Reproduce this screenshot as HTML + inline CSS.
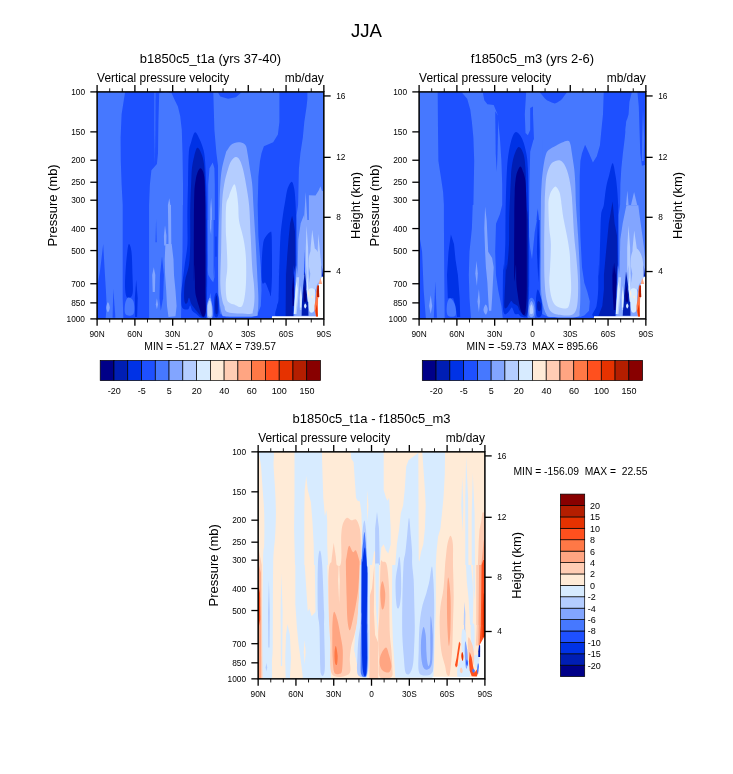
<!DOCTYPE html>
<html lang="en"><head><meta charset="utf-8"><title>JJA</title>
<style>html,body{margin:0;padding:0;background:#fff}svg{display:block}</style></head>
<body>
<svg width="733" height="774" viewBox="0 0 733 774" font-family="Liberation Sans, Arial, sans-serif">
<rect width="733" height="774" fill="#fff"/>
<text x="366.5" y="37.2" font-size="18.6" text-anchor="middle">JJA</text>
<g>
<clipPath id="cp0"><rect x="97.10" y="91.90" width="226.75" height="227.0"/></clipPath>
<g clip-path="url(#cp0)" shape-rendering="auto">
<rect x="97.10" y="91.90" width="226.75" height="227.0" fill="#1e50ff"/>
<path d="M95.4 89.4L125.3 91.0L123.8 100.3L121.6 114.3L120.6 137.7L120.8 161.0L121.6 184.3L122.7 205.0L122.7 236.1L122.7 298.3L123.4 320.1L95.4 320.1Z" fill="#4678ff"/>
<path d="M103.2 243.9L104.5 267.2L106.0 292.1L106.6 304.5L105.6 320.1L95.4 320.1L95.4 298.3L100.1 270.3Z" fill="#1e50ff"/>
<path d="M113.3 289.0L115.4 317.8L112.6 317.8Z" fill="#1e50ff"/>
<path d="M107.9 302.2C108.5 302.2 109.8 306.0 109.8 307.6C109.8 309.3 108.5 312.3 107.9 312.3C107.3 312.3 106.3 309.3 106.3 307.6C106.3 306.0 107.3 302.2 107.9 302.2Z" fill="#82a5ff"/>
<path d="M154.4 92.6L155.5 92.6L155.3 129.9L154.9 165.7L154.4 129.9Z" fill="#4678ff"/>
<path d="M159.2 93.3L165.4 92.2L171.7 93.3L174.8 100.3L177.9 106.6L180.2 115.9L181.8 129.9L182.5 153.2L183.0 184.3L183.0 205.0L182.8 205.0L182.5 251.7L181.8 275.0L181.0 320.1L149.1 320.1L149.1 205.0L149.1 205.0L149.9 184.3L151.4 170.3L156.9 164.1L158.0 153.2L158.4 122.1Z" fill="#4678ff"/>
<path d="M128.9 243.9C129.6 243.9 130.9 246.5 131.5 251.7C132.1 256.8 132.3 268.2 132.5 275.0C132.7 281.7 133.1 288.3 132.8 292.1C132.4 295.9 131.5 296.8 130.4 297.5C129.4 298.3 127.5 298.7 126.5 296.8C125.6 294.8 125.1 290.8 125.0 285.9C124.9 280.9 125.4 272.9 125.8 267.2C126.2 261.5 126.8 255.5 127.3 251.7C127.8 247.8 128.2 243.9 128.9 243.9Z" fill="#0032e6"/>
<path d="M136.2 279.7L137.7 298.3L137.1 317.0L135.1 317.0L134.8 298.3Z" fill="#0032e6"/>
<path d="M128.1 297.5C129.5 297.0 132.6 298.7 133.5 301.4C134.5 304.1 134.8 311.7 133.5 313.9C132.3 316.1 127.2 316.2 125.8 314.6C124.3 313.1 124.6 307.4 125.0 304.5C125.4 301.7 126.7 298.1 128.1 297.5Z" fill="#4678ff"/>
<path d="M169.3 198.3L170.4 205.0L171.0 205.0L171.3 243.9L168.5 243.9L167.9 205.0Z" fill="#82a5ff"/>
<path d="M165.0 225.2L166.5 236.1L166.2 245.4L164.2 245.4L163.9 236.1Z" fill="#82a5ff"/>
<path d="M165.4 243.9L171.7 243.9L173.5 259.4L174.0 275.0L175.5 290.5L176.6 306.1L175.5 316.2L168.5 317.0L167.0 306.1L166.2 290.5L165.1 275.0L164.7 259.4Z" fill="#82a5ff"/>
<path d="M162.0 256.3L163.9 275.0L163.1 298.3L160.8 310.8L159.5 298.3L160.0 275.0Z" fill="#1e50ff"/>
<path d="M156.1 219.0L156.7 242.3L155.5 242.3Z" fill="#1e50ff"/>
<path d="M153.8 267.2L155.3 275.0L154.9 292.1L152.7 292.1L152.2 275.0Z" fill="#82a5ff"/>
<path d="M156.9 298.3L158.0 304.5L156.9 309.2L155.8 304.5Z" fill="#82a5ff"/>
<path d="M213.3 92.6L218.0 92.6L220.3 96.4L228.1 98.8L235.9 97.2L241.3 92.6L279.4 92.6L279.4 122.1L277.9 134.5L273.2 142.3L263.9 146.2L261.5 153.2L260.0 161.0L258.4 176.5L257.7 205.0L257.7 205.0L258.4 236.1L260.8 267.2L261.5 290.5L260.8 306.1L257.7 313.9L251.4 317.3L226.6 317.3L220.3 313.9L218.0 298.3L218.0 205.0L218.0 205.0L218.0 165.7L216.4 153.2L214.4 129.9Z" fill="#4678ff"/>
<path d="M212.7 162.5L214.4 168.2L214.8 184.6L214.8 220.0L213.6 220.0L213.6 280.0L214.4 265.0L214.4 277.3L213.2 282.2L211.1 279.7L208.2 274.8L207.4 265.0L207.8 280.0L207.8 220.0L208.2 220.0L208.2 184.6L209.5 168.2Z" fill="#4678ff"/>
<path d="M211.1 197.7L211.9 209.1L211.9 220.0L211.5 220.0L211.1 234.7L210.1 228.2L210.1 220.0L210.3 220.0L210.3 209.1Z" fill="#82a5ff"/>
<path d="M238.2 142.3C240.5 142.3 243.7 142.8 245.2 144.7C246.8 146.5 246.8 149.2 247.5 153.2C248.3 157.2 249.1 163.6 249.9 168.8C250.7 173.9 251.6 178.3 252.2 184.3C252.8 190.4 252.9 196.4 253.4 205.0C253.9 213.6 254.7 225.7 255.3 236.1C255.9 246.5 256.5 259.4 256.9 267.2C257.3 275.0 257.4 277.6 257.7 282.8C257.9 287.9 258.4 293.4 258.4 298.3C258.4 303.2 258.3 309.3 257.7 312.3C257.0 315.3 259.7 315.6 254.5 316.2C249.4 316.8 232.0 316.6 226.6 316.2C221.1 315.8 223.1 316.8 221.9 313.9C220.6 310.9 219.7 303.5 219.1 298.3C218.5 293.1 218.4 290.5 218.3 282.8C218.2 275.0 218.1 264.6 218.3 251.7C218.5 238.7 219.2 216.2 219.6 205.0C219.9 193.8 219.9 190.4 220.3 184.3C220.7 178.3 221.0 173.9 221.9 168.8C222.8 163.6 224.9 156.3 225.8 153.2C226.7 150.1 226.4 151.5 227.3 150.1C228.2 148.7 229.4 146.0 231.2 144.7C233.0 143.4 235.9 142.3 238.2 142.3Z" fill="#82a5ff"/>
<path d="M235.9 157.1C237.3 157.0 238.6 158.3 239.8 160.2C240.9 162.2 241.8 164.7 242.9 168.8C243.9 172.8 245.0 178.3 246.0 184.3C247.0 190.4 248.3 196.4 249.1 205.0C249.9 213.6 250.1 225.7 250.7 236.1C251.2 246.5 251.7 259.4 252.2 267.2C252.7 275.0 253.4 277.6 253.8 282.8C254.2 287.9 254.7 293.6 254.5 298.3C254.4 303.0 253.8 308.2 253.0 310.8C252.2 313.3 254.0 313.6 249.9 313.9C245.7 314.1 232.4 313.6 228.1 312.3C223.8 311.0 225.3 308.4 224.2 306.1C223.2 303.8 222.5 302.2 221.9 298.3C221.2 294.4 220.5 290.5 220.3 282.8C220.2 275.0 220.8 264.6 221.1 251.7C221.4 238.7 221.5 216.2 222.0 205.0C222.6 193.8 223.2 190.4 224.2 184.3C225.2 178.3 226.9 172.7 228.1 168.8C229.3 164.9 229.9 162.9 231.2 161.0C232.5 159.0 234.5 157.2 235.9 157.1Z" fill="#b4cdff"/>
<path d="M234.3 184.3C235.4 184.3 236.0 188.6 236.7 192.1C237.3 195.5 237.8 200.3 238.2 205.0C238.6 209.7 238.3 215.9 239.0 220.6C239.6 225.2 241.2 229.1 242.1 233.0C243.0 236.9 243.8 239.5 244.4 243.9C245.1 248.3 245.7 253.0 246.0 259.4C246.3 265.9 246.3 276.3 246.0 282.8C245.7 289.2 245.1 294.4 244.4 298.3C243.8 302.2 243.0 304.7 242.1 306.1C241.2 307.5 240.3 307.1 239.0 306.9C237.7 306.6 235.9 305.2 234.3 304.5C232.8 303.9 231.0 304.0 229.7 303.0C228.4 301.9 227.2 301.7 226.6 298.3C225.9 294.9 225.6 287.9 225.8 282.8C225.9 277.6 227.2 273.7 227.3 267.2C227.5 260.7 226.8 250.4 226.6 243.9C226.3 237.4 225.8 234.8 225.8 228.3C225.7 221.8 225.6 210.3 226.2 205.0C226.7 199.7 228.2 198.9 228.9 196.8C229.6 194.6 229.5 194.2 230.4 192.1C231.3 190.0 233.3 184.3 234.3 184.3Z" fill="#d7ebff"/>
<path d="M210.3 292.8L211.5 300.2L209.1 300.2Z" fill="#4678ff"/>
<path d="M209.9 297.7C210.8 297.7 211.9 302.7 212.3 305.9C212.7 309.2 213.2 315.5 212.3 317.4C211.5 319.3 208.3 319.3 207.4 317.4C206.5 315.5 206.6 309.2 207.0 305.9C207.4 302.7 209.0 297.7 209.9 297.7Z" fill="#82a5ff"/>
<path d="M209.9 300.2C210.5 300.2 211.2 303.3 211.5 305.9C211.8 308.5 212.1 314.1 211.5 315.8C211.0 317.4 208.9 317.4 208.2 315.8C207.6 314.1 207.6 308.5 207.8 305.9C208.1 303.3 209.3 300.2 209.9 300.2Z" fill="#b4cdff"/>
<path d="M216.4 292.8C217.1 292.8 218.1 294.9 218.5 297.7C218.9 300.6 219.0 306.9 218.9 310.0C218.7 313.2 218.3 315.5 217.7 316.6C217.0 317.7 215.4 317.7 214.8 316.6C214.2 315.5 214.0 313.2 214.0 310.0C213.9 306.9 214.0 300.6 214.4 297.7C214.8 294.9 215.7 292.8 216.4 292.8Z" fill="#0032e6"/>
<path d="M216.4 295.3C216.8 295.3 217.4 299.0 217.7 301.8C217.9 304.7 217.9 310.4 217.7 312.5C217.4 314.5 216.4 314.5 216.0 314.1C215.6 313.7 215.3 312.1 215.2 310.0C215.1 308.0 215.0 304.3 215.2 301.8C215.4 299.4 216.0 295.3 216.4 295.3Z" fill="#001eb4"/>
<path d="M215.6 236.4L216.4 236.4L216.4 256.8L215.6 256.8Z" fill="#0032e6"/>
<path d="M195.0 132.2C196.4 131.7 198.2 136.2 199.6 139.2C201.1 142.2 202.6 146.5 203.5 150.1C204.4 153.7 204.6 155.3 205.1 161.0C205.5 166.7 205.9 177.0 206.2 184.3C206.5 191.7 206.7 199.1 206.8 205.0C206.9 210.9 206.9 207.4 207.0 220.0C207.1 232.6 207.3 266.4 207.2 280.7C207.1 295.0 206.8 299.8 206.6 305.9C206.4 312.0 207.2 315.5 206.2 317.4C205.2 319.3 202.1 317.9 200.5 317.4C198.8 316.8 197.7 315.2 196.4 314.1C195.0 313.0 193.3 312.3 192.3 310.8C191.3 309.4 190.9 305.8 190.2 305.5C189.5 305.2 189.2 308.6 188.2 309.2C187.2 309.8 185.2 309.7 184.1 309.2C183.0 308.7 182.1 307.8 181.6 305.9C181.2 304.0 181.2 300.5 181.2 297.7C181.2 295.0 181.1 295.0 181.6 289.6C182.2 284.1 183.8 272.5 184.7 265.0C185.7 257.5 186.9 252.1 187.4 244.6C187.8 237.1 187.3 226.6 187.4 220.0C187.4 213.4 187.4 210.9 187.5 205.0C187.6 199.1 187.8 192.9 188.0 184.3C188.2 175.7 188.2 160.2 188.8 153.2C189.3 146.2 190.1 145.8 191.1 142.3C192.1 138.8 193.6 132.7 195.0 132.2Z" fill="#0032e6"/>
<path d="M197.3 147.8C198.5 147.2 200.1 150.5 201.2 153.2C202.3 155.9 203.4 158.9 204.0 164.1C204.6 169.3 204.8 177.5 205.1 184.3C205.4 191.1 205.7 199.1 205.9 205.0C206.0 210.9 206.0 207.5 206.0 220.0C206.1 232.5 206.2 268.4 206.2 280.0C206.2 291.6 206.1 284.6 206.0 289.6C206.0 294.6 206.3 305.5 206.0 310.0C205.8 314.5 205.3 315.5 204.6 316.6C203.8 317.6 202.6 317.1 201.3 316.2C199.9 315.2 197.6 312.3 196.4 310.8C195.1 309.4 194.7 308.7 193.9 307.6C193.1 306.5 192.3 305.9 191.5 304.3C190.6 302.7 189.7 298.0 189.0 297.7C188.3 297.5 188.0 301.7 187.4 302.7C186.8 303.6 185.9 304.3 185.3 303.5C184.8 302.7 184.2 301.4 184.1 297.7C184.0 294.1 184.1 286.8 184.9 281.4C185.7 275.9 188.1 271.1 189.0 265.0C189.9 258.9 190.0 252.1 190.2 244.6C190.4 237.1 190.2 226.6 190.2 220.0C190.2 213.4 190.2 210.9 190.3 205.0C190.5 199.1 190.8 190.4 191.1 184.3C191.4 178.3 191.4 173.4 191.9 168.8C192.4 164.1 193.3 159.8 194.2 156.3C195.1 152.8 196.1 148.3 197.3 147.8Z" fill="#001eb4"/>
<path d="M200.5 168.2C201.4 168.2 202.6 170.2 203.3 172.3C204.0 174.3 204.3 177.1 204.6 180.5C204.8 183.9 204.9 186.2 205.0 192.7C205.1 199.3 205.1 205.5 205.2 220.0C205.2 234.5 205.3 267.0 205.4 280.0C205.4 293.0 205.3 292.7 205.4 297.7C205.4 302.7 205.9 307.0 205.8 310.0C205.6 313.0 205.0 314.7 204.6 315.8C204.1 316.8 203.5 316.8 202.9 316.6C202.4 316.3 202.0 315.9 201.3 314.1C200.6 312.3 199.6 308.7 198.8 305.9C198.0 303.2 197.0 300.5 196.4 297.7C195.8 295.0 195.4 295.0 195.1 289.6C194.9 284.1 194.9 266.6 194.7 265.0C194.5 263.4 194.1 287.5 193.9 280.0C193.8 272.5 193.8 234.5 193.9 220.0C194.0 205.5 194.1 199.3 194.3 192.7C194.6 186.2 195.0 183.9 195.6 180.5C196.1 177.1 196.8 174.3 197.6 172.3C198.4 170.2 199.5 168.2 200.5 168.2Z" fill="#000088"/>
<path d="M270.1 232.2C271.0 232.2 271.3 229.0 271.7 236.1C272.0 243.2 272.1 265.1 272.0 275.0C271.8 284.8 271.3 292.4 270.9 295.2C270.4 298.1 270.2 294.2 269.3 292.1C268.4 290.0 266.6 284.3 265.4 282.8C264.3 281.2 263.0 285.4 262.3 282.8C261.7 280.2 261.4 273.7 261.5 267.2C261.7 260.7 262.3 249.1 263.1 243.9C263.9 238.7 265.0 238.0 266.2 236.1C267.4 234.2 269.2 232.2 270.1 232.2Z" fill="#0032e6"/>
<path d="M291.7 181.7C292.8 181.7 293.6 185.4 294.2 188.6C294.8 191.9 295.1 195.7 295.4 200.9C295.8 206.2 296.1 217.7 296.2 220.0C296.4 222.3 296.2 205.8 296.2 215.0C296.2 224.2 296.6 266.7 296.2 275.0C295.9 283.3 294.7 258.1 294.2 265.0C293.7 271.9 296.4 308.0 293.4 316.6C290.4 325.2 278.9 318.3 276.2 316.6C273.5 314.8 276.6 309.1 277.0 305.9C277.4 302.8 278.3 304.6 278.6 297.7C279.0 290.9 279.0 268.8 279.1 265.0C279.1 261.2 278.8 279.2 279.1 275.0C279.3 270.8 279.7 248.8 280.3 239.6C280.8 230.3 281.5 226.0 282.3 219.5C283.1 213.1 284.3 206.1 285.2 200.9C286.1 195.8 286.6 191.9 287.6 188.6C288.7 185.4 290.6 181.7 291.7 181.7Z" fill="#0032e6"/>
<path d="M292.1 215.7L293.8 223.2L295.0 231.4L295.4 275.0L293.5 265.0L293.5 316.6L285.6 316.6L286.0 265.0L286.0 275.0L287.2 255.9L288.5 239.6L290.1 223.2Z" fill="#001eb4"/>
<path d="M293.4 273.2L294.2 289.6L293.8 305.9L292.6 305.9L292.1 289.6Z" fill="#000088"/>
<path d="M307.4 89.4L307.4 98.8L306.6 106.6L304.3 122.1L302.8 137.7L300.4 153.2L298.9 168.8L298.1 205.0L296.6 215.0L296.6 275.0L295.8 265.0L293.4 316.6L325.3 316.6L325.3 265.0L326.1 205.0L326.1 89.4Z" fill="#4678ff"/>
<path d="M308.9 195.2L315.5 195.6L318.8 190.3L320.4 186.2L322.0 191.1L325.3 191.1L325.3 220.0L325.3 265.0L325.3 316.6L294.2 316.6L296.6 265.0L297.5 275.0L298.3 239.6L300.7 223.2L304.0 215.0L304.0 220.0L305.7 191.9L307.3 220.0L308.9 220.0Z" fill="#82a5ff"/>
<path d="M312.2 229.7L314.7 247.7L315.5 275.0L315.5 265.0L315.5 289.6L308.9 289.6L309.7 265.0L309.7 275.0L310.6 247.7Z" fill="#b4cdff"/>
<path d="M318.3 233.8L320.4 255.9L320.8 275.0L320.4 265.0L320.4 277.3L317.1 277.3L317.1 265.0L317.1 275.0L317.5 255.9Z" fill="#b4cdff"/>
<path d="M306.5 225.6L308.1 247.7L308.5 275.0L308.5 265.0L308.9 301.8L306.5 301.8L306.5 265.0L305.8 275.0L305.8 247.7Z" fill="#b4cdff"/>
<path d="M296.6 277.3L299.1 277.3L298.3 297.7L296.6 314.1L294.2 314.1L295.0 297.7Z" fill="#b4cdff"/>
<path d="M300.7 285.5L302.4 297.7L301.6 310.0L299.9 310.0L299.5 297.7Z" fill="#b4cdff"/>
<path d="M304.4 249.4L305.0 275.0L303.9 275.0Z" fill="#1e50ff"/>
<path d="M304.8 271.5L306.5 285.5L308.1 301.8L308.5 315.8L301.6 315.8L302.0 301.8L303.2 285.5Z" fill="#001eb4"/>
<path d="M304.8 285.5L306.1 293.6L306.5 301.8L304.0 301.8L303.6 293.6Z" fill="#000088"/>
<path d="M305.2 303.5C305.7 303.5 306.5 305.1 306.5 305.9C306.5 306.7 305.7 308.4 305.2 308.4C304.8 308.4 304.0 306.7 304.0 305.9C304.0 305.1 304.8 303.5 305.2 303.5Z" fill="#d7ebff"/>
<path d="M322.0 267.4L323.0 275.0L323.0 265.0L323.0 276.5L321.6 276.5L321.6 265.0Z" fill="#001eb4"/>
<path d="M309.3 255.2C310.4 251.1 312.8 248.1 314.7 248.6C316.5 249.2 319.3 253.7 320.4 258.5C321.5 263.2 321.8 272.9 321.2 277.3C320.7 281.6 318.1 282.6 317.1 284.6C316.1 286.7 316.4 288.7 315.1 289.6C313.7 290.4 310.0 292.3 308.9 289.6C307.8 286.8 308.5 278.9 308.5 273.2C308.6 267.5 308.3 259.3 309.3 255.2Z" fill="#b4cdff"/>
<path d="M308.9 289.6C310.0 287.5 313.6 287.9 314.7 289.6C315.7 291.2 315.1 295.8 315.1 299.4C315.0 302.9 315.1 308.8 314.2 310.8C313.4 312.9 310.7 313.2 309.7 311.7C308.8 310.2 308.7 305.5 308.5 301.8C308.4 298.2 307.9 291.6 308.9 289.6Z" fill="#d7ebff"/>
<path d="M307.1 277.3L308.5 289.6L308.9 301.8L307.7 301.8L306.5 289.6Z" fill="#d7ebff"/>
<path d="M296.2 281.4L297.9 289.6L296.6 301.8L295.4 314.1L293.8 314.1L294.6 301.8Z" fill="#d7ebff"/>
<path d="M300.3 289.6L301.7 297.7L301.2 307.6L299.9 307.6Z" fill="#d7ebff"/>
<path d="M308.5 289.6L309.4 293.6L309.1 298.6L307.9 293.6Z" fill="#ffebd7"/>
<path d="M312.2 295.3C312.5 295.3 313.0 296.4 313.0 296.9C313.0 297.5 312.5 298.6 312.2 298.6C311.9 298.6 311.4 297.5 311.4 296.9C311.4 296.4 311.9 295.3 312.2 295.3Z" fill="#ffebd7"/>
<path d="M308.9 266.6L310.2 273.2L309.7 283.0L308.8 273.2Z" fill="#82a5ff"/>
<path d="M321.6 276.9L325.3 276.9L325.3 322.3L271.3 322.3L272.1 316.2L317.1 316.2L317.5 301.8L318.3 297.7L318.6 284.6Z" fill="#fff"/>
<path d="M320.4 278.1L322.2 284.0L318.6 284.0Z" fill="#ffa582"/>
<path d="M317.1 285.5L318.8 285.5L319.2 296.9L318.1 297.7L317.9 316.6L315.9 316.6L314.7 310.8L314.5 305.9L315.5 299.4L316.3 292.0Z" fill="#ff7846"/>
<path d="M316.9 304.3L317.9 316.6L316.3 316.6L315.5 310.8Z" fill="#e63200"/>
<path d="M317.5 285.5L318.9 285.5L319.2 296.9L317.1 296.9L316.9 291.2Z" fill="#b41e00"/>
</g>
<rect x="97.10" y="91.90" width="226.75" height="227.0" fill="none" stroke="#000" stroke-width="1.5"/>
<path d="M97.10 85.10V91.90M97.10 318.90V325.70" stroke="#000" stroke-width="1.3"/>
<path d="M109.70 88.30V91.90M109.70 318.90V322.50" stroke="#000" stroke-width="0.9"/>
<path d="M122.29 88.30V91.90M122.29 318.90V322.50" stroke="#000" stroke-width="0.9"/>
<path d="M134.89 85.10V91.90M134.89 318.90V325.70" stroke="#000" stroke-width="1.3"/>
<path d="M147.49 88.30V91.90M147.49 318.90V322.50" stroke="#000" stroke-width="0.9"/>
<path d="M160.09 88.30V91.90M160.09 318.90V322.50" stroke="#000" stroke-width="0.9"/>
<path d="M172.68 85.10V91.90M172.68 318.90V325.70" stroke="#000" stroke-width="1.3"/>
<path d="M185.28 88.30V91.90M185.28 318.90V322.50" stroke="#000" stroke-width="0.9"/>
<path d="M197.88 88.30V91.90M197.88 318.90V322.50" stroke="#000" stroke-width="0.9"/>
<path d="M210.47 85.10V91.90M210.47 318.90V325.70" stroke="#000" stroke-width="1.3"/>
<path d="M223.07 88.30V91.90M223.07 318.90V322.50" stroke="#000" stroke-width="0.9"/>
<path d="M235.67 88.30V91.90M235.67 318.90V322.50" stroke="#000" stroke-width="0.9"/>
<path d="M248.27 85.10V91.90M248.27 318.90V325.70" stroke="#000" stroke-width="1.3"/>
<path d="M260.86 88.30V91.90M260.86 318.90V322.50" stroke="#000" stroke-width="0.9"/>
<path d="M273.46 88.30V91.90M273.46 318.90V322.50" stroke="#000" stroke-width="0.9"/>
<path d="M286.06 85.10V91.90M286.06 318.90V325.70" stroke="#000" stroke-width="1.3"/>
<path d="M298.66 88.30V91.90M298.66 318.90V322.50" stroke="#000" stroke-width="0.9"/>
<path d="M311.25 88.30V91.90M311.25 318.90V322.50" stroke="#000" stroke-width="0.9"/>
<path d="M323.85 85.10V91.90M323.85 318.90V325.70" stroke="#000" stroke-width="1.3"/>
<text x="97.10" y="337.20" font-size="8.3" text-anchor="middle">90N</text>
<text x="134.89" y="337.20" font-size="8.3" text-anchor="middle">60N</text>
<text x="172.68" y="337.20" font-size="8.3" text-anchor="middle">30N</text>
<text x="210.47" y="337.20" font-size="8.3" text-anchor="middle">0</text>
<text x="248.27" y="337.20" font-size="8.3" text-anchor="middle">30S</text>
<text x="286.06" y="337.20" font-size="8.3" text-anchor="middle">60S</text>
<text x="323.85" y="337.20" font-size="8.3" text-anchor="middle">90S</text>
<path d="M90.30 91.90H97.10" stroke="#000" stroke-width="1.3"/>
<text x="85.00" y="95.00" font-size="8.3" text-anchor="end">100</text>
<path d="M90.30 131.87H97.10" stroke="#000" stroke-width="1.3"/>
<text x="85.00" y="134.97" font-size="8.3" text-anchor="end">150</text>
<path d="M90.30 160.23H97.10" stroke="#000" stroke-width="1.3"/>
<text x="85.00" y="163.33" font-size="8.3" text-anchor="end">200</text>
<path d="M90.30 182.23H97.10" stroke="#000" stroke-width="1.3"/>
<text x="85.00" y="185.33" font-size="8.3" text-anchor="end">250</text>
<path d="M90.30 200.21H97.10" stroke="#000" stroke-width="1.3"/>
<text x="85.00" y="203.31" font-size="8.3" text-anchor="end">300</text>
<path d="M90.30 228.57H97.10" stroke="#000" stroke-width="1.3"/>
<text x="85.00" y="231.67" font-size="8.3" text-anchor="end">400</text>
<path d="M90.30 250.57H97.10" stroke="#000" stroke-width="1.3"/>
<text x="85.00" y="253.67" font-size="8.3" text-anchor="end">500</text>
<path d="M90.30 283.74H97.10" stroke="#000" stroke-width="1.3"/>
<text x="85.00" y="286.84" font-size="8.3" text-anchor="end">700</text>
<path d="M90.30 302.88H97.10" stroke="#000" stroke-width="1.3"/>
<text x="85.00" y="305.98" font-size="8.3" text-anchor="end">850</text>
<path d="M90.30 318.90H97.10" stroke="#000" stroke-width="1.3"/>
<text x="85.00" y="322.00" font-size="8.3" text-anchor="end">1000</text>
<path d="M323.85 95.95H330.65" stroke="#000" stroke-width="1.3"/>
<text x="336.15" y="98.65" font-size="8.3">16</text>
<path d="M323.85 157.35H330.65" stroke="#000" stroke-width="1.3"/>
<text x="336.15" y="160.05" font-size="8.3">12</text>
<path d="M323.85 217.30H330.65" stroke="#000" stroke-width="1.3"/>
<text x="336.15" y="220.00" font-size="8.3">8</text>
<path d="M323.85 271.55H330.65" stroke="#000" stroke-width="1.3"/>
<text x="336.15" y="274.25" font-size="8.3">4</text>
<text transform="translate(56.60 205.40) rotate(-90)" font-size="12.97" text-anchor="middle">Pressure (mb)</text>
<text transform="translate(360.35 205.40) rotate(-90)" font-size="12.97" text-anchor="middle">Height (km)</text>
<text x="97.10" y="82.20" font-size="11.95">Vertical pressure velocity</text>
<text x="323.85" y="82.20" font-size="11.95" text-anchor="end">mb/day</text>
<text x="210.48" y="63.20" font-size="12.97" text-anchor="middle">b1850c5_t1a (yrs 37-40)</text>
</g>
<g>
<clipPath id="cp1"><rect x="419.10" y="91.90" width="226.75" height="227.0"/></clipPath>
<g clip-path="url(#cp1)" shape-rendering="auto">
<rect x="419.10" y="91.90" width="226.75" height="227.0" fill="#1e50ff"/>
<path d="M417.4 89.4L437.7 91.0L437.7 92.6L438.0 129.9L438.4 161.0L440.8 176.5L443.1 192.1L443.9 205.0L443.9 220.6L444.2 267.2L444.7 320.1L417.4 320.1Z" fill="#4678ff"/>
<path d="M418.2 228.3L422.1 251.7L423.7 290.5L426.0 320.1L418.2 320.1Z" fill="#1e50ff"/>
<path d="M435.3 281.2L436.9 317.8L433.8 317.8Z" fill="#1e50ff"/>
<path d="M430.7 295.2L432.2 306.1L430.7 313.9L429.1 306.1Z" fill="#82a5ff"/>
<path d="M461.8 92.6L482.8 92.6L484.3 100.3L487.4 104.2L493.7 105.0L497.5 114.3L499.9 137.7L501.4 161.0L502.2 184.3L502.2 205.0L502.2 205.0L499.9 214.3L496.0 223.7L495.2 251.7L496.0 275.0L498.3 290.5L501.4 306.1L503.0 320.1L471.1 320.1L469.5 298.3L468.8 275.0L469.5 251.7L471.9 228.3L472.7 205.0L473.4 205.0L474.2 161.0L473.4 137.7L471.9 122.1L470.3 109.7L467.2 98.8Z" fill="#4678ff"/>
<path d="M495.2 111.2L498.3 115.9L497.5 153.2L496.8 171.9L495.7 153.2Z" fill="#1e50ff"/>
<path d="M450.9 234.5L454.0 243.9L455.5 259.4L457.9 275.0L459.7 298.3L460.2 317.0L457.1 317.0L455.5 306.1L453.2 298.3L447.8 298.3L447.0 275.0L448.5 251.7Z" fill="#0032e6"/>
<path d="M450.1 298.3C451.4 298.3 453.9 301.7 454.8 304.5C455.7 307.4 456.7 313.6 455.5 315.4C454.4 317.2 449.2 317.2 447.8 315.4C446.3 313.6 446.6 307.4 447.0 304.5C447.4 301.7 448.8 298.3 450.1 298.3Z" fill="#4678ff"/>
<path d="M485.1 206.6L486.7 220.6L487.4 236.1L488.2 251.7L492.1 257.9L493.7 267.2L492.9 282.8L492.1 298.3L491.3 310.8L489.0 310.8L488.2 298.3L487.4 282.8L485.9 267.2L485.1 251.7L484.3 228.3Z" fill="#82a5ff"/>
<path d="M476.5 261.0L477.8 273.4L476.9 285.9L475.3 273.4Z" fill="#82a5ff"/>
<path d="M478.9 289.0L480.0 301.4L478.9 312.3L477.5 301.4Z" fill="#82a5ff"/>
<path d="M485.6 304.5C486.3 304.4 487.7 307.5 487.7 309.2C487.8 310.9 486.6 314.5 485.9 314.6C485.2 314.8 483.6 311.7 483.5 310.0C483.5 308.3 484.9 304.7 485.6 304.5Z" fill="#82a5ff"/>
<path d="M526.3 89.4L524.8 114.3L525.5 133.0L527.9 135.3L530.2 129.9L530.2 108.1L533.0 106.6L533.0 114.3L534.2 145.4L536.1 168.8L540.0 184.3L540.0 205.0L540.0 205.0L540.0 298.3L542.3 313.9L548.6 317.3L579.7 317.3L584.3 315.4L589.0 310.8L589.8 301.4L587.4 292.1L584.3 282.8L582.0 267.2L580.4 236.1L579.7 205.0L579.7 205.0L579.7 176.5L580.4 161.0L582.0 153.2L585.1 144.7L589.0 153.2L592.9 162.5L596.8 156.3L599.9 145.4L601.4 129.9L603.0 114.3L603.8 89.4Z" fill="#4678ff"/>
<path d="M540.8 89.4C537.1 90.7 542.6 95.3 543.9 97.2C545.2 99.2 546.7 100.1 548.6 101.1C550.4 102.1 553.0 103.4 554.8 103.4C556.6 103.4 558.0 102.1 559.4 101.1C560.9 100.1 562.3 99.2 563.3 97.2C564.4 95.3 569.4 90.7 565.7 89.4C561.9 88.1 544.4 88.1 540.8 89.4Z" fill="#1e50ff"/>
<path d="M530.2 151.8L533.5 139.5L542.9 139.5L542.9 220.0L541.3 220.0L536.8 220.0L534.7 232.3L533.1 248.6L532.0 259.3L530.2 248.6L528.6 232.3L528.4 220.0L529.0 220.0L529.4 184.6Z" fill="#4678ff"/>
<path d="M537.6 208.3L538.8 220.0L538.4 220.0L536.4 220.0L536.4 220.0Z" fill="#1e50ff"/>
<path d="M567.2 140.8C569.5 140.5 569.5 141.8 570.3 143.9C571.1 146.0 571.2 149.1 571.9 153.2C572.5 157.4 573.6 163.6 574.2 168.8C574.8 173.9 575.0 178.3 575.3 184.3C575.6 190.4 575.5 196.4 576.0 205.0C576.5 213.6 577.5 225.7 578.1 236.1C578.7 246.5 579.3 258.1 579.7 267.2C580.0 276.3 580.4 283.3 580.4 290.5C580.4 297.8 580.3 306.4 579.7 310.8C579.0 315.2 581.2 315.9 576.5 317.0C571.9 318.0 556.7 317.5 551.7 317.0C546.6 316.5 547.8 316.5 546.2 313.9C544.7 311.3 543.2 306.6 542.3 301.4C541.4 296.2 541.0 291.1 540.8 282.8C540.5 274.5 540.8 264.6 540.8 251.7C540.8 238.7 540.8 216.2 540.9 205.0C541.1 193.8 541.2 190.4 541.6 184.3C541.9 178.3 542.5 173.4 543.1 168.8C543.8 164.1 544.5 159.4 545.4 156.3C546.3 153.2 546.7 151.9 548.6 150.1C550.4 148.3 553.2 147.0 556.3 145.4C559.4 143.9 564.9 141.0 567.2 140.8Z" fill="#82a5ff"/>
<path d="M559.4 160.2C561.4 160.5 562.7 161.9 564.1 164.1C565.5 166.3 567.0 170.1 568.0 173.4C569.0 176.8 569.7 180.4 570.3 184.3C571.0 188.2 571.5 193.3 571.9 196.8C572.2 200.2 572.0 198.4 572.4 205.0C572.8 211.6 573.5 227.0 574.2 236.1C574.9 245.2 575.9 251.7 576.5 259.4C577.2 267.2 578.0 275.2 578.1 282.8C578.2 290.3 578.1 299.4 577.3 304.5C576.5 309.7 575.6 312.1 573.4 313.9C571.2 315.7 567.7 315.7 564.1 315.4C560.5 315.2 554.5 314.6 551.7 312.3C548.8 310.0 548.2 306.4 547.0 301.4C545.8 296.5 545.1 291.1 544.7 282.8C544.2 274.5 544.2 264.6 544.2 251.7C544.2 238.7 544.5 214.9 544.7 205.0C544.8 195.1 544.9 196.6 545.1 192.1C545.4 187.6 545.6 182.0 546.2 178.1C546.8 174.2 547.5 171.4 548.6 168.8C549.6 166.2 550.6 164.0 552.4 162.5C554.3 161.1 557.5 159.9 559.4 160.2Z" fill="#b4cdff"/>
<path d="M555.6 186.6C556.8 186.9 558.5 189.9 559.4 192.1C560.3 194.3 560.6 197.7 561.0 199.9C561.4 202.0 561.2 202.1 561.6 205.0C562.0 207.9 562.5 212.8 563.3 217.4C564.1 222.1 565.4 227.3 566.4 233.0C567.5 238.7 568.9 246.0 569.5 251.7C570.2 257.4 570.1 260.7 570.3 267.2C570.6 273.7 571.4 284.1 571.1 290.5C570.8 297.0 569.9 303.1 568.8 306.1C567.6 309.1 566.2 308.4 564.1 308.4C562.0 308.4 558.4 307.8 556.3 306.1C554.3 304.4 552.8 302.2 551.7 298.3C550.5 294.4 549.6 287.9 549.3 282.8C549.1 277.6 549.8 273.7 550.1 267.2C550.4 260.7 551.0 250.4 550.9 243.9C550.8 237.4 549.7 234.8 549.3 228.3C548.9 221.8 548.4 210.3 548.4 205.0C548.4 199.7 548.8 199.2 549.3 196.8C549.9 194.3 550.6 192.2 551.7 190.5C552.7 188.9 554.3 186.4 555.6 186.6Z" fill="#d7ebff"/>
<path d="M531.5 297.7C532.6 297.7 534.1 299.8 534.7 301.8C535.4 303.9 535.6 307.4 535.6 310.0C535.6 312.7 536.0 316.5 534.7 317.8C533.5 319.1 529.4 319.1 528.2 317.8C527.0 316.5 527.4 312.7 527.4 310.0C527.4 307.4 527.5 303.9 528.2 301.8C528.9 299.8 530.4 297.7 531.5 297.7Z" fill="#4678ff"/>
<path d="M531.5 301.0C532.2 301.2 533.4 304.0 533.9 305.9C534.4 307.8 534.5 310.7 534.3 312.5C534.2 314.2 533.9 315.9 533.1 316.6C532.4 317.3 530.6 317.5 529.8 316.6C529.1 315.6 528.7 312.7 528.6 310.8C528.5 308.9 528.9 306.7 529.4 305.1C529.9 303.5 530.7 300.9 531.5 301.0Z" fill="#82a5ff"/>
<path d="M531.5 304.3C532.0 304.3 532.7 306.9 532.9 308.4C533.2 309.9 533.4 312.4 532.9 313.3C532.5 314.2 530.7 314.5 530.2 313.7C529.7 312.9 529.8 310.0 530.0 308.4C530.2 306.8 531.0 304.3 531.5 304.3Z" fill="#b4cdff"/>
<path d="M537.6 289.6C538.4 289.0 539.7 293.6 540.5 296.1C541.2 298.6 541.8 301.6 542.1 304.3C542.4 307.0 542.4 310.4 542.1 312.5C541.8 314.5 541.3 315.9 540.5 316.6C539.7 317.3 537.9 317.5 537.2 316.6C536.4 315.6 536.2 313.7 536.0 310.8C535.8 308.0 535.7 302.9 536.0 299.4C536.2 295.8 536.9 290.1 537.6 289.6Z" fill="#0032e6"/>
<path d="M538.4 301.0C539.0 301.0 540.1 302.1 540.5 303.5C540.9 304.8 541.1 307.9 540.9 309.2C540.7 310.5 539.8 311.2 539.2 311.2C538.7 311.2 537.7 310.5 537.4 309.2C537.0 307.9 537.0 304.8 537.2 303.5C537.4 302.1 537.9 301.0 538.4 301.0Z" fill="#001eb4"/>
<path d="M515.4 132.2C517.2 131.4 519.8 134.2 521.6 137.7C523.5 141.2 525.3 148.0 526.3 153.2C527.3 158.4 527.5 160.1 527.9 168.8C528.3 177.4 528.5 196.5 528.6 205.0C528.8 213.5 528.9 207.4 529.0 220.0C529.1 232.6 529.3 267.0 529.2 280.7C529.1 294.3 528.9 296.0 528.6 301.8C528.3 307.7 528.0 313.2 527.4 315.8C526.8 318.3 526.0 317.3 524.9 317.4C523.8 317.5 521.9 317.1 520.8 316.6C519.7 316.0 519.3 314.5 518.4 314.1C517.4 313.7 515.9 314.7 515.1 314.1C514.3 313.6 514.0 311.9 513.5 310.8C512.9 309.7 512.5 307.6 511.8 307.6C511.1 307.6 510.3 309.7 509.4 310.8C508.4 311.9 507.0 313.7 506.1 314.1C505.2 314.5 504.6 314.7 504.0 313.3C503.5 311.9 503.0 309.9 502.8 305.9C502.6 302.0 502.8 296.4 502.8 289.6C502.9 282.7 503.0 268.4 503.2 265.0C503.4 261.6 503.7 272.5 504.0 269.1C504.4 265.7 505.0 252.7 505.3 244.6C505.5 236.4 505.3 230.0 505.5 220.0C505.6 210.0 505.9 194.3 506.3 184.4C506.7 174.6 506.9 168.0 507.6 161.0C508.4 154.0 509.5 147.1 510.8 142.3C512.1 137.5 513.6 133.0 515.4 132.2Z" fill="#0032e6"/>
<path d="M518.5 147.0C520.1 146.5 522.0 149.6 523.2 153.2C524.4 156.8 525.0 160.1 525.5 168.8C526.1 177.4 525.9 196.5 526.3 205.0C526.7 213.5 527.7 207.5 528.0 220.0C528.3 232.5 528.2 268.4 528.2 280.0C528.2 291.6 528.2 284.4 528.0 289.6C527.9 294.7 527.9 306.4 527.4 310.8C526.9 315.3 526.2 316.2 524.9 316.2C523.6 316.2 520.8 312.5 519.6 310.8C518.4 309.1 518.6 307.2 517.6 305.9C516.5 304.7 514.5 304.3 513.5 303.5C512.4 302.7 512.1 301.0 511.4 301.0C510.7 301.0 510.1 302.4 509.4 303.5C508.6 304.6 507.7 306.9 506.9 307.6C506.1 308.2 504.9 309.2 504.5 307.6C504.0 305.9 504.3 302.1 504.5 297.7C504.6 293.4 505.0 286.8 505.3 281.4C505.5 275.9 505.8 267.0 506.1 265.0C506.4 263.0 506.4 272.5 506.9 269.1C507.4 265.7 508.6 252.7 509.0 244.6C509.3 236.4 509.0 228.6 509.2 220.0C509.4 211.4 509.9 200.0 510.2 192.7C510.5 185.5 510.8 180.4 511.0 176.4C511.2 172.4 511.1 172.1 511.5 168.8C512.0 165.4 512.7 159.9 513.9 156.3C515.0 152.7 517.0 147.5 518.5 147.0Z" fill="#001eb4"/>
<path d="M520.4 166.5C521.4 166.5 522.5 170.0 523.3 172.3C524.1 174.6 524.9 177.1 525.3 180.5C525.8 183.9 525.9 186.2 526.1 192.7C526.4 199.3 526.5 205.3 526.6 220.0C526.7 234.7 526.8 267.7 526.8 280.7C526.8 293.6 526.7 292.9 526.6 297.7C526.4 302.6 526.0 307.3 525.7 310.0C525.5 312.7 525.3 313.3 524.9 314.1C524.6 314.9 524.2 315.2 523.7 314.9C523.1 314.7 522.3 314.0 521.6 312.5C521.0 311.0 520.3 309.1 519.6 305.9C518.9 302.8 518.1 297.7 517.6 293.6C517.0 289.6 516.6 286.1 516.3 281.4C516.1 276.6 516.3 265.2 515.9 265.0C515.6 264.8 514.6 287.5 514.3 280.0C514.0 272.5 514.2 234.5 514.3 220.0C514.3 205.5 514.5 199.3 514.7 192.7C514.9 186.2 515.1 183.9 515.5 180.5C515.9 177.1 516.3 174.6 517.1 172.3C518.0 170.0 519.4 166.5 520.4 166.5Z" fill="#000088"/>
<path d="M538.0 209.7L539.5 251.7L538.4 282.8L536.9 251.7Z" fill="#0032e6"/>
<path d="M612.6 163.3C613.7 163.3 614.7 171.0 615.4 175.0C616.2 179.0 616.5 182.4 617.0 187.4C617.5 192.4 618.0 200.4 618.2 205.0C618.4 209.6 618.2 203.3 618.2 215.0C618.2 226.7 618.4 266.7 618.2 275.0C618.0 283.3 617.5 258.1 617.0 265.0C616.5 271.9 619.3 308.0 615.4 316.6C611.4 325.2 596.4 318.3 593.3 316.6C590.1 314.8 595.7 310.4 596.5 305.9C597.4 301.4 597.9 296.4 598.2 289.6C598.5 282.7 598.0 267.4 598.2 265.0C598.3 262.6 598.7 279.2 599.0 275.0C599.3 270.8 599.9 249.6 600.2 239.6C600.6 229.6 600.5 220.8 601.1 215.0C601.6 209.2 602.9 209.6 603.8 205.0C604.6 200.4 605.2 192.4 606.1 187.4C607.0 182.4 608.1 179.0 609.2 175.0C610.3 171.0 611.6 163.3 612.6 163.3Z" fill="#0032e6"/>
<path d="M612.6 201.4L614.6 223.2L617.0 235.5L617.8 275.0L617.0 265.0L615.8 316.6L598.2 316.6L602.3 305.9L603.9 289.6L603.9 265.0L603.9 275.0L606.4 247.7L608.8 223.2Z" fill="#001eb4"/>
<path d="M614.1 262.5L615.4 275.0L616.2 265.0L616.6 289.6L615.8 310.0L613.7 310.0L612.5 289.6L612.3 265.0L612.9 275.0Z" fill="#000088"/>
<path d="M632.5 89.4L629.4 101.9L628.6 114.3L626.3 122.1L624.8 137.7L622.9 153.2L621.3 168.8L620.4 184.3L620.1 205.0L618.6 215.0L618.6 275.0L617.8 265.0L615.4 316.6L647.3 316.6L647.3 265.0L648.1 205.0L648.1 164.1L641.9 165.7L640.3 153.2L639.5 129.9L638.8 106.6L637.2 89.4Z" fill="#4678ff"/>
<path d="M643.0 109.7L644.2 137.7L643.7 161.0L641.9 161.0L642.2 137.7Z" fill="#4678ff"/>
<path d="M626.3 119.0L627.9 129.9L627.1 137.7L625.5 129.9Z" fill="#4678ff"/>
<path d="M622.7 223.2L625.2 210.9L626.4 205.2L638.3 205.2L639.5 215.0L642.4 235.5L644.0 247.7L645.0 257.6L647.3 264.1L647.3 275.0L647.3 265.0L647.3 316.6L616.2 316.6L618.6 265.0L619.5 275.0L620.3 239.6Z" fill="#82a5ff"/>
<path d="M627.4 190.5L628.6 205.0L626.0 205.0Z" fill="#82a5ff"/>
<path d="M634.1 192.1L637.2 205.0L631.0 205.0Z" fill="#82a5ff"/>
<path d="M634.2 230.6L636.7 247.7L637.5 275.0L637.5 265.0L637.5 289.6L630.9 289.6L631.7 265.0L631.7 275.0L632.6 247.7Z" fill="#b4cdff"/>
<path d="M628.5 225.6L630.1 247.7L630.5 275.0L630.5 265.0L630.9 301.8L628.5 301.8L628.5 265.0L627.2 275.0L627.2 247.7Z" fill="#b4cdff"/>
<path d="M618.6 277.3L621.1 277.3L620.3 297.7L618.6 314.1L616.2 314.1L617.0 297.7Z" fill="#b4cdff"/>
<path d="M622.7 285.5L624.4 297.7L623.6 310.0L621.9 310.0L621.5 297.7Z" fill="#b4cdff"/>
<path d="M626.0 271.5L628.1 285.5L630.1 301.8L630.5 315.8L622.7 315.8L623.6 301.8L624.8 285.5Z" fill="#001eb4"/>
<path d="M626.4 285.5L627.7 293.6L628.1 301.8L625.6 301.8L625.2 293.6Z" fill="#000088"/>
<path d="M627.2 303.5C627.7 303.5 628.5 305.1 628.5 305.9C628.5 306.7 627.7 308.4 627.2 308.4C626.8 308.4 626.0 306.7 626.0 305.9C626.0 305.1 626.8 303.5 627.2 303.5Z" fill="#d7ebff"/>
<path d="M644.0 267.4L645.0 275.0L645.0 265.0L645.0 276.5L643.6 276.5L643.6 265.0Z" fill="#001eb4"/>
<path d="M631.3 255.2C632.4 251.1 634.8 248.1 636.7 248.6C638.5 249.2 641.3 253.7 642.4 258.5C643.5 263.2 643.8 272.9 643.2 277.3C642.7 281.6 640.1 282.6 639.1 284.6C638.1 286.7 638.4 288.7 637.1 289.6C635.7 290.4 632.0 292.3 630.9 289.6C629.8 286.8 630.5 278.9 630.5 273.2C630.6 267.5 630.3 259.3 631.3 255.2Z" fill="#b4cdff"/>
<path d="M630.9 289.6C632.0 287.5 635.6 287.9 636.7 289.6C637.7 291.2 637.1 295.8 637.1 299.4C637.0 302.9 637.1 308.8 636.2 310.8C635.4 312.9 632.7 313.2 631.7 311.7C630.8 310.2 630.7 305.5 630.5 301.8C630.4 298.2 629.9 291.6 630.9 289.6Z" fill="#d7ebff"/>
<path d="M629.1 277.3L630.5 289.6L630.9 301.8L629.7 301.8L628.5 289.6Z" fill="#d7ebff"/>
<path d="M618.2 281.4L619.9 289.6L618.6 301.8L617.4 314.1L615.8 314.1L616.6 301.8Z" fill="#d7ebff"/>
<path d="M622.3 289.6L623.7 297.7L623.2 307.6L621.9 307.6Z" fill="#d7ebff"/>
<path d="M630.5 289.6L631.4 293.6L631.1 298.6L629.9 293.6Z" fill="#ffebd7"/>
<path d="M634.2 295.3C634.5 295.3 635.0 296.4 635.0 296.9C635.0 297.5 634.5 298.6 634.2 298.6C633.9 298.6 633.4 297.5 633.4 296.9C633.4 296.4 633.9 295.3 634.2 295.3Z" fill="#ffebd7"/>
<path d="M630.9 266.6L632.2 273.2L631.7 283.0L630.8 273.2Z" fill="#82a5ff"/>
<path d="M643.6 276.9L647.3 276.9L647.3 322.3L593.3 322.3L594.1 316.2L639.1 316.2L639.5 301.8L640.3 297.7L640.6 284.6Z" fill="#fff"/>
<path d="M642.4 278.1L644.2 284.0L640.6 284.0Z" fill="#ffa582"/>
<path d="M639.1 285.5L640.8 285.5L641.2 296.9L640.1 297.7L639.9 316.6L637.9 316.6L636.7 310.8L636.5 305.9L637.5 299.4L638.3 292.0Z" fill="#ff7846"/>
<path d="M638.9 304.3L639.9 316.6L638.3 316.6L637.5 310.8Z" fill="#e63200"/>
<path d="M639.5 285.5L640.9 285.5L641.2 296.9L639.1 296.9L638.9 291.2Z" fill="#b41e00"/>
</g>
<rect x="419.10" y="91.90" width="226.75" height="227.0" fill="none" stroke="#000" stroke-width="1.5"/>
<path d="M419.10 85.10V91.90M419.10 318.90V325.70" stroke="#000" stroke-width="1.3"/>
<path d="M431.70 88.30V91.90M431.70 318.90V322.50" stroke="#000" stroke-width="0.9"/>
<path d="M444.29 88.30V91.90M444.29 318.90V322.50" stroke="#000" stroke-width="0.9"/>
<path d="M456.89 85.10V91.90M456.89 318.90V325.70" stroke="#000" stroke-width="1.3"/>
<path d="M469.49 88.30V91.90M469.49 318.90V322.50" stroke="#000" stroke-width="0.9"/>
<path d="M482.09 88.30V91.90M482.09 318.90V322.50" stroke="#000" stroke-width="0.9"/>
<path d="M494.68 85.10V91.90M494.68 318.90V325.70" stroke="#000" stroke-width="1.3"/>
<path d="M507.28 88.30V91.90M507.28 318.90V322.50" stroke="#000" stroke-width="0.9"/>
<path d="M519.88 88.30V91.90M519.88 318.90V322.50" stroke="#000" stroke-width="0.9"/>
<path d="M532.48 85.10V91.90M532.48 318.90V325.70" stroke="#000" stroke-width="1.3"/>
<path d="M545.07 88.30V91.90M545.07 318.90V322.50" stroke="#000" stroke-width="0.9"/>
<path d="M557.67 88.30V91.90M557.67 318.90V322.50" stroke="#000" stroke-width="0.9"/>
<path d="M570.27 85.10V91.90M570.27 318.90V325.70" stroke="#000" stroke-width="1.3"/>
<path d="M582.86 88.30V91.90M582.86 318.90V322.50" stroke="#000" stroke-width="0.9"/>
<path d="M595.46 88.30V91.90M595.46 318.90V322.50" stroke="#000" stroke-width="0.9"/>
<path d="M608.06 85.10V91.90M608.06 318.90V325.70" stroke="#000" stroke-width="1.3"/>
<path d="M620.66 88.30V91.90M620.66 318.90V322.50" stroke="#000" stroke-width="0.9"/>
<path d="M633.25 88.30V91.90M633.25 318.90V322.50" stroke="#000" stroke-width="0.9"/>
<path d="M645.85 85.10V91.90M645.85 318.90V325.70" stroke="#000" stroke-width="1.3"/>
<text x="419.10" y="337.20" font-size="8.3" text-anchor="middle">90N</text>
<text x="456.89" y="337.20" font-size="8.3" text-anchor="middle">60N</text>
<text x="494.68" y="337.20" font-size="8.3" text-anchor="middle">30N</text>
<text x="532.48" y="337.20" font-size="8.3" text-anchor="middle">0</text>
<text x="570.27" y="337.20" font-size="8.3" text-anchor="middle">30S</text>
<text x="608.06" y="337.20" font-size="8.3" text-anchor="middle">60S</text>
<text x="645.85" y="337.20" font-size="8.3" text-anchor="middle">90S</text>
<path d="M412.30 91.90H419.10" stroke="#000" stroke-width="1.3"/>
<text x="407.00" y="95.00" font-size="8.3" text-anchor="end">100</text>
<path d="M412.30 131.87H419.10" stroke="#000" stroke-width="1.3"/>
<text x="407.00" y="134.97" font-size="8.3" text-anchor="end">150</text>
<path d="M412.30 160.23H419.10" stroke="#000" stroke-width="1.3"/>
<text x="407.00" y="163.33" font-size="8.3" text-anchor="end">200</text>
<path d="M412.30 182.23H419.10" stroke="#000" stroke-width="1.3"/>
<text x="407.00" y="185.33" font-size="8.3" text-anchor="end">250</text>
<path d="M412.30 200.21H419.10" stroke="#000" stroke-width="1.3"/>
<text x="407.00" y="203.31" font-size="8.3" text-anchor="end">300</text>
<path d="M412.30 228.57H419.10" stroke="#000" stroke-width="1.3"/>
<text x="407.00" y="231.67" font-size="8.3" text-anchor="end">400</text>
<path d="M412.30 250.57H419.10" stroke="#000" stroke-width="1.3"/>
<text x="407.00" y="253.67" font-size="8.3" text-anchor="end">500</text>
<path d="M412.30 283.74H419.10" stroke="#000" stroke-width="1.3"/>
<text x="407.00" y="286.84" font-size="8.3" text-anchor="end">700</text>
<path d="M412.30 302.88H419.10" stroke="#000" stroke-width="1.3"/>
<text x="407.00" y="305.98" font-size="8.3" text-anchor="end">850</text>
<path d="M412.30 318.90H419.10" stroke="#000" stroke-width="1.3"/>
<text x="407.00" y="322.00" font-size="8.3" text-anchor="end">1000</text>
<path d="M645.85 95.95H652.65" stroke="#000" stroke-width="1.3"/>
<text x="658.15" y="98.65" font-size="8.3">16</text>
<path d="M645.85 157.35H652.65" stroke="#000" stroke-width="1.3"/>
<text x="658.15" y="160.05" font-size="8.3">12</text>
<path d="M645.85 217.30H652.65" stroke="#000" stroke-width="1.3"/>
<text x="658.15" y="220.00" font-size="8.3">8</text>
<path d="M645.85 271.55H652.65" stroke="#000" stroke-width="1.3"/>
<text x="658.15" y="274.25" font-size="8.3">4</text>
<text transform="translate(378.60 205.40) rotate(-90)" font-size="12.97" text-anchor="middle">Pressure (mb)</text>
<text transform="translate(682.35 205.40) rotate(-90)" font-size="12.97" text-anchor="middle">Height (km)</text>
<text x="419.10" y="82.20" font-size="11.95">Vertical pressure velocity</text>
<text x="645.85" y="82.20" font-size="11.95" text-anchor="end">mb/day</text>
<text x="532.48" y="63.20" font-size="12.97" text-anchor="middle">f1850c5_m3 (yrs 2-6)</text>
</g>
<g>
<clipPath id="cp2"><rect x="258.15" y="451.85" width="226.75" height="227.0"/></clipPath>
<g clip-path="url(#cp2)" shape-rendering="auto">
<rect x="258.15" y="451.85" width="226.75" height="227.0" fill="#ffebd7"/>
<path d="M259.6 449.4C257.6 452.3 260.6 459.8 261.1 466.6C261.6 473.3 262.1 482.1 262.7 489.9C263.2 497.7 264.0 504.1 264.2 513.2C264.5 522.3 264.4 535.7 264.2 544.3C264.0 552.9 263.3 542.4 263.1 565.0C262.8 587.6 261.3 660.9 262.7 680.1C264.0 699.3 269.7 683.2 271.2 680.1C272.8 677.0 271.7 667.6 272.0 661.4C272.3 655.2 272.6 658.8 272.8 642.8C273.0 626.7 272.8 582.7 273.2 565.0C273.6 547.3 274.7 545.2 275.1 536.5C275.6 527.9 275.9 521.0 275.9 513.2C275.9 505.4 275.5 497.7 275.1 489.9C274.7 482.1 273.9 473.3 273.6 466.6C273.2 459.8 275.1 452.3 272.8 449.4C270.4 446.6 261.5 446.6 259.6 449.4Z" fill="#d7ebff"/>
<path d="M268.9 580.6L269.8 611.7L269.5 647.4L268.3 647.4L268.0 611.7Z" fill="#b4cdff"/>
<path d="M266.4 663.0L267.2 667.6L266.4 671.5L265.6 667.6Z" fill="#b4cdff"/>
<path d="M257.2 541.7L261.7 565.0L262.4 680.1L257.2 680.1Z" fill="#ffcdb4"/>
<path d="M257.2 557.2L260.8 572.8L261.1 680.1L257.2 680.1Z" fill="#ffa582"/>
<path d="M257.2 580.6L260.0 593.0L260.2 619.4L257.2 635.0Z" fill="#ff501e"/>
<path d="M281.3 572.8L282.6 611.7L282.1 666.1L280.9 666.1L280.6 611.7Z" fill="#d7ebff"/>
<path d="M287.5 624.1L289.9 635.0L291.0 658.3L289.9 679.0L285.7 679.0L285.2 658.3L286.0 635.0Z" fill="#d7ebff"/>
<path d="M294.5 449.4L294.5 497.7L294.1 528.8L295.0 565.0L295.3 565.0L295.3 603.9L296.9 627.2L298.4 642.8L301.5 666.1L303.1 680.1L320.2 680.1L324.9 680.1L331.1 680.1L330.3 642.8L328.8 611.7L327.2 565.0L328.0 565.0L327.2 544.3L327.2 521.0L326.4 510.1L324.9 516.3L323.3 497.7L322.5 474.3L321.8 449.4Z" fill="#d7ebff"/>
<path d="M306.2 475.9L307.8 489.9L310.9 502.3L312.4 521.0L313.7 544.3L314.0 565.0L314.8 565.0L315.5 611.7L311.7 616.3L309.3 608.5L307.8 611.7L304.7 565.0L304.3 565.0L304.3 513.2L304.7 489.9Z" fill="#ffebd7"/>
<path d="M304.7 639.7L305.6 652.1L304.7 664.5L303.7 652.1Z" fill="#ffebd7"/>
<path d="M319.9 550.5C320.6 550.5 321.5 554.8 322.2 565.0C322.9 575.2 323.8 601.3 324.1 611.7C324.4 622.0 324.0 618.1 324.1 627.2C324.2 636.3 325.0 658.1 324.9 666.1C324.7 674.1 324.0 674.1 323.3 675.4C322.7 676.7 321.5 675.4 321.0 673.9C320.5 672.3 320.5 673.9 320.2 666.1C320.0 658.3 319.8 636.3 319.4 627.2C319.0 618.1 318.1 622.0 317.9 611.7C317.6 601.3 317.5 575.2 317.9 565.0C318.2 554.8 319.2 550.5 319.9 550.5Z" fill="#b4cdff"/>
<path d="M350.5 449.4L351.3 458.8L353.6 461.9L354.4 474.3L356.0 497.7L357.5 500.8L359.9 501.5L361.4 513.2L361.9 528.8L362.2 565.0L359.9 565.0L359.1 596.1L357.5 619.4L355.2 635.0L354.4 650.5L357.5 666.1L360.6 677.0L366.9 677.8L370.0 642.8L369.4 565.0L372.0 565.0L374.3 550.5L379.8 565.0L381.3 547.4L383.7 544.3L386.0 550.5L388.3 553.6L390.7 544.3L390.7 528.8L389.9 513.2L389.1 497.7L387.6 500.8L386.0 497.7L383.7 489.9L383.7 449.4Z" fill="#d7ebff"/>
<path d="M367.6 489.9L368.4 505.4L367.6 522.5L366.9 505.4Z" fill="#ffebd7"/>
<path d="M377.0 511.7L379.0 528.8L379.8 565.0L375.1 565.0L375.1 528.8Z" fill="#b4cdff"/>
<path d="M375.9 565.0L377.6 565.0L377.3 574.3L376.4 574.3Z" fill="#b4cdff"/>
<path d="M417.9 453.3L418.7 449.4L445.1 449.4L444.8 474.3L443.5 497.7L442.0 513.2L440.4 528.8L438.1 536.5L436.5 552.1L435.8 565.0L435.8 565.0L435.8 611.7L435.0 635.0L434.2 658.3L433.4 677.8L395.3 677.8L394.6 666.1L393.0 642.8L391.9 611.7L392.2 565.0L395.3 565.0L396.9 544.3L399.2 528.8L400.8 513.2L403.1 505.4L404.7 489.9L406.2 466.6L408.5 460.3L412.4 457.2Z" fill="#d7ebff"/>
<path d="M418.3 449.4L422.1 449.4L423.3 466.6L424.9 489.9L425.7 505.4L424.9 528.8L423.3 544.3L421.0 552.1L419.4 561.4L418.7 559.9Z" fill="#ffebd7"/>
<path d="M409.0 517.9C409.7 517.9 410.4 530.8 410.9 536.5C411.4 542.2 411.9 547.3 412.1 552.1C412.3 556.8 411.9 560.3 412.2 565.0C412.5 569.7 413.3 574.1 413.7 580.6C414.0 587.0 414.1 596.1 414.3 603.9C414.5 611.7 414.8 619.4 414.8 627.2C414.7 635.0 414.3 644.1 414.0 650.5C413.7 657.0 413.5 662.2 412.7 666.1C412.0 670.0 410.5 672.8 409.3 673.9C408.1 674.9 406.3 674.9 405.4 672.3C404.5 669.7 404.4 664.5 403.9 658.3C403.4 652.1 402.6 644.1 402.3 635.0C402.1 625.9 402.1 615.5 402.3 603.9C402.5 592.2 403.0 573.6 403.5 565.0C404.0 556.4 404.9 556.8 405.4 552.1C406.0 547.3 406.4 542.2 407.0 536.5C407.6 530.8 408.4 517.9 409.0 517.9Z" fill="#b4cdff"/>
<path d="M399.2 556.8C399.7 556.8 400.2 559.7 400.5 565.0C400.9 570.3 401.3 581.8 401.2 588.3C401.1 594.8 400.6 600.5 400.0 603.9C399.4 607.3 398.3 609.1 397.7 608.5C397.0 608.0 396.4 605.4 396.1 600.8C395.8 596.1 395.3 586.5 395.6 580.6C395.9 574.6 397.3 569.0 397.9 565.0C398.5 561.0 398.8 556.8 399.2 556.8Z" fill="#b4cdff"/>
<path d="M431.9 566.6C432.5 566.6 433.0 574.3 433.4 580.6C433.8 586.8 434.1 594.8 434.2 603.9C434.3 613.0 434.0 624.6 433.9 635.0C433.8 645.4 433.9 659.6 433.4 666.1C433.0 672.6 432.8 672.3 431.1 673.9C429.4 675.4 425.4 675.9 423.3 675.4C421.2 674.9 419.4 674.9 418.7 670.8C417.9 666.6 418.5 657.8 418.7 650.5C418.8 643.3 418.9 634.2 419.4 627.2C420.0 620.2 420.6 614.2 421.8 608.5C422.9 602.8 425.1 597.7 426.4 593.0C427.7 588.3 428.6 585.0 429.5 580.6C430.5 576.1 431.2 566.6 431.9 566.6Z" fill="#b4cdff"/>
<path d="M423.3 627.2C424.1 625.9 425.1 630.8 425.7 635.0C426.2 639.1 426.2 647.7 426.4 652.1C426.7 656.5 426.8 659.1 427.2 661.4C427.6 663.8 428.2 666.6 428.8 666.1C429.3 665.6 430.1 663.5 430.3 658.3C430.6 653.1 430.2 642.0 430.3 635.0C430.4 628.0 430.4 616.3 430.8 616.3C431.2 616.3 432.4 628.0 432.7 635.0C432.9 642.0 432.7 652.9 432.3 658.3C432.0 663.8 431.6 665.8 430.3 667.6C429.1 669.5 426.3 670.2 424.9 669.2C423.5 668.2 422.4 665.8 421.8 661.4C421.1 657.0 420.7 648.5 421.0 642.8C421.2 637.1 422.5 628.5 423.3 627.2Z" fill="#82a5ff"/>
<path d="M466.1 455.7L468.1 497.7L468.4 565.0L470.9 565.0L472.6 581.4L473.4 597.7L473.0 614.1L472.6 625.0L470.1 625.0L468.5 597.7L466.8 581.4L466.0 565.0L465.3 565.0L465.3 497.7Z" fill="#d7ebff"/>
<path d="M472.8 472.8L474.6 513.2L475.0 565.0L474.6 565.0L474.9 589.6L474.2 599.4L473.5 589.6L473.2 565.0L471.7 565.0L471.7 513.2Z" fill="#d7ebff"/>
<path d="M462.2 477.4L463.3 505.4L462.5 531.9L461.3 505.4Z" fill="#d7ebff"/>
<path d="M464.5 601.8L465.4 614.1L465.2 625.0L465.2 625.0L466.0 649.6L464.4 649.6L464.0 625.0L463.7 625.0L463.9 614.1Z" fill="#b4cdff"/>
<path d="M346.6 517.9C348.1 517.2 349.8 519.9 351.3 520.2C352.9 520.5 354.7 518.5 356.0 519.4C357.3 520.3 358.3 522.8 359.1 525.7C359.9 528.5 360.4 530.0 360.6 536.5C360.9 543.1 360.9 555.1 360.6 565.0C360.4 574.9 359.6 587.0 359.1 596.1C358.6 605.2 358.3 613.0 357.5 619.4C356.8 625.9 355.5 630.6 354.4 635.0C353.4 639.4 352.1 642.0 351.3 645.9C350.5 649.8 350.1 653.6 349.8 658.3C349.4 663.0 352.0 671.3 349.0 673.9C346.0 676.5 335.0 679.1 331.9 673.9C328.8 668.7 330.8 653.1 330.3 642.8C329.8 632.4 328.9 624.6 328.8 611.7C328.6 598.7 327.6 572.8 329.5 565.0C331.5 557.2 338.5 569.7 340.4 565.0C342.4 560.3 340.8 543.4 341.2 536.5C341.6 529.7 341.9 527.2 342.8 524.1C343.7 521.0 345.2 518.5 346.6 517.9Z" fill="#ffcdb4"/>
<path d="M333.7 542.8L335.8 556.8L336.5 565.0L331.1 565.0L331.9 556.8Z" fill="#ffcdb4"/>
<path d="M338.9 560.3L339.8 580.6L339.2 603.9L338.1 580.6Z" fill="#ffebd7"/>
<path d="M349.0 545.9C350.0 545.1 351.7 551.3 352.9 552.1C354.0 552.9 354.9 549.2 356.0 550.5C357.0 551.8 358.5 557.5 359.1 559.9C359.7 562.3 359.6 560.3 359.5 565.0C359.4 569.7 358.9 581.8 358.3 588.3C357.7 594.8 356.9 598.7 356.0 603.9C355.1 609.1 353.9 615.0 352.9 619.4C351.8 623.8 350.7 630.3 349.8 630.3C348.9 630.3 347.9 625.1 347.4 619.4C346.9 613.7 346.9 605.2 346.6 596.1C346.4 587.0 345.9 571.6 345.9 565.0C345.9 558.4 346.1 559.9 346.6 556.8C347.2 553.6 347.9 546.6 349.0 545.9Z" fill="#ffa582"/>
<path d="M334.2 611.7C335.0 611.7 336.3 615.5 337.3 619.4C338.4 623.3 339.5 629.8 340.4 635.0C341.3 640.2 342.5 644.6 342.8 650.5C343.0 656.5 342.6 666.9 342.0 670.8C341.3 674.6 340.2 673.6 338.9 673.9C337.6 674.1 335.2 674.9 334.2 672.3C333.2 669.7 333.0 664.5 332.7 658.3C332.3 652.1 332.3 641.5 332.3 635.0C332.3 628.5 332.3 623.3 332.7 619.4C333.0 615.5 333.4 611.7 334.2 611.7Z" fill="#ffa582"/>
<path d="M335.8 645.9C336.3 646.1 337.4 652.1 337.6 655.2C337.8 658.3 337.4 663.2 337.0 664.5C336.6 665.8 335.4 664.8 335.0 663.0C334.6 661.2 334.4 656.5 334.5 653.6C334.6 650.8 335.2 645.6 335.8 645.9Z" fill="#ff7846"/>
<path d="M369.7 596.1L372.0 588.3L374.3 565.0L373.9 611.7L375.1 635.0L378.2 642.8L378.2 679.0L372.0 679.0L369.4 679.0L369.4 627.2Z" fill="#ffcdb4"/>
<path d="M375.1 563.4L379.0 563.4L378.5 603.9L377.4 633.4L375.9 603.9Z" fill="#d7ebff"/>
<path d="M380.6 565.0C381.1 556.7 381.8 561.9 382.9 561.9C383.9 561.9 385.7 560.6 386.8 565.0C387.8 569.4 388.7 580.6 389.1 588.3C389.5 596.1 389.3 603.9 389.4 611.7C389.5 619.4 389.5 628.5 389.9 635.0C390.2 641.5 391.1 645.4 391.4 650.5C391.8 655.7 392.2 661.7 392.2 666.1C392.2 670.5 393.5 675.2 391.4 677.0C389.4 678.8 381.8 680.1 379.8 677.0C377.7 673.9 379.3 665.3 379.0 658.3C378.7 651.3 378.1 642.8 378.2 635.0C378.3 627.2 379.1 623.3 379.5 611.7C379.9 600.0 380.0 573.3 380.6 565.0Z" fill="#ffcdb4"/>
<path d="M382.6 581.3C383.4 582.1 384.9 589.0 385.2 593.0C385.5 597.0 385.0 602.7 384.4 605.4C383.9 608.2 382.8 610.4 382.1 609.3C381.5 608.3 380.8 602.7 380.6 599.2C380.3 595.7 380.2 591.3 380.6 588.3C380.9 585.3 381.8 580.6 382.6 581.3Z" fill="#ffa582"/>
<path d="M386.0 647.4C387.4 647.4 388.2 652.1 389.1 655.2C390.0 658.3 391.4 663.2 391.4 666.1C391.4 668.9 390.5 671.5 389.1 672.3C387.7 673.1 384.4 672.1 382.9 670.8C381.3 669.5 380.2 667.1 379.8 664.5C379.4 661.9 379.5 658.1 380.6 655.2C381.6 652.4 384.6 647.4 386.0 647.4Z" fill="#ffa582"/>
<path d="M450.5 535.8C451.4 535.8 452.5 539.4 452.9 544.3C453.3 549.2 452.9 556.4 453.0 565.0C453.2 573.6 453.7 585.7 453.7 596.1C453.6 606.5 453.1 618.1 452.9 627.2C452.6 636.3 452.6 642.8 452.1 650.5C451.6 658.3 450.7 670.0 449.8 673.9C448.9 677.8 447.4 675.2 446.7 673.9C445.9 672.6 446.0 670.0 445.1 666.1C444.2 662.2 442.1 657.0 441.2 650.5C440.3 644.1 439.8 634.5 439.7 627.2C439.5 620.0 439.8 613.5 440.4 607.0C441.1 600.5 442.8 595.3 443.5 588.3C444.3 581.3 444.7 570.3 445.1 565.0C445.5 559.7 445.5 560.2 445.9 556.8C446.3 553.3 446.7 547.8 447.4 544.3C448.2 540.8 449.6 535.8 450.5 535.8Z" fill="#ffcdb4"/>
<path d="M448.2 577.4C448.8 577.4 450.2 587.8 450.5 596.1C450.9 604.4 450.8 618.9 450.5 627.2C450.3 635.5 449.5 645.9 449.0 645.9C448.5 645.9 447.8 635.5 447.4 627.2C447.1 618.9 446.8 604.4 447.0 596.1C447.1 587.8 447.6 577.4 448.2 577.4Z" fill="#ffa582"/>
<path d="M359.9 565.0L359.1 596.1L357.5 619.4L355.2 635.0L354.4 650.5L357.5 666.1L360.6 677.0L366.9 677.8L369.4 642.8L369.4 565.0Z" fill="#d7ebff"/>
<path d="M364.4 520.6C364.9 520.6 365.6 525.3 366.0 529.6C366.4 533.8 366.6 540.0 366.8 545.9C367.0 551.8 367.1 560.5 367.2 565.0C367.4 569.5 367.7 563.2 367.8 573.2C368.0 583.2 368.0 615.0 368.1 625.0C368.2 635.0 368.4 626.4 368.5 633.2C368.5 640.0 368.7 658.8 368.5 665.9C368.2 673.0 367.5 673.8 366.8 675.8C366.2 677.7 365.7 677.4 364.4 677.4C363.0 677.4 359.9 677.0 358.6 675.8C357.4 674.5 357.2 673.0 357.0 670.0C356.8 667.0 357.2 662.5 357.4 657.7C357.6 653.0 357.8 646.8 358.2 641.4C358.7 635.9 359.9 629.5 360.3 625.0C360.7 620.5 360.6 624.1 360.7 614.1C360.8 604.1 360.8 575.0 360.9 565.0C361.1 555.0 361.4 558.0 361.5 554.1C361.7 550.3 361.7 545.9 361.9 541.8C362.1 537.7 362.3 533.1 362.7 529.6C363.2 526.0 363.8 520.6 364.4 520.6Z" fill="#b4cdff"/>
<path d="M364.4 532.0C364.8 532.0 365.3 538.2 365.6 541.8C365.9 545.5 366.2 550.3 366.4 554.1C366.7 558.0 366.8 561.8 367.0 565.0C367.2 568.2 367.6 563.2 367.7 573.2C367.7 583.2 367.5 615.0 367.5 625.0C367.5 635.0 367.4 627.7 367.5 633.2C367.5 638.6 367.9 650.9 367.8 657.7C367.7 664.6 367.3 670.9 366.8 674.1C366.3 677.3 365.7 677.0 364.8 677.0C363.8 677.0 361.8 677.3 361.1 674.1C360.4 670.9 360.7 665.9 360.7 657.7C360.7 649.6 361.0 632.3 361.1 625.0C361.2 617.7 361.2 624.1 361.3 614.1C361.3 604.1 361.3 574.3 361.4 565.0C361.5 555.7 361.8 560.7 361.9 558.2C362.1 555.7 362.1 552.7 362.3 550.0C362.5 547.3 362.8 544.8 363.2 541.8C363.5 538.8 364.0 532.0 364.4 532.0Z" fill="#4678ff"/>
<path d="M364.8 547.6C365.3 547.6 365.7 552.8 366.0 555.8C366.3 558.7 366.5 562.1 366.7 565.0C366.9 567.9 367.2 563.2 367.2 573.2C367.3 583.2 366.9 615.0 366.8 625.0C366.8 635.0 366.8 627.7 366.8 633.2C366.9 638.6 367.1 651.2 367.0 657.7C366.9 664.3 366.8 669.4 366.4 672.5C366.1 675.5 365.6 676.2 365.0 676.2C364.5 676.2 363.6 675.5 363.2 672.5C362.7 669.4 362.3 665.7 362.1 657.7C361.9 649.8 361.8 632.3 361.8 625.0C361.7 617.7 361.7 624.1 361.8 614.1C361.8 604.1 361.8 573.6 361.9 565.0C362.1 556.4 362.4 563.8 362.6 562.3C362.8 560.8 362.8 558.2 363.2 555.8C363.5 553.3 364.3 547.6 364.8 547.6Z" fill="#0032e6"/>
<path d="M482.4 512.4L487.3 512.4L487.3 565.0L487.3 565.0L487.3 625.0L487.3 625.0L487.3 645.5L475.8 645.5L476.7 625.0L476.2 625.0L476.2 565.0L477.9 565.0L478.3 554.1L478.7 541.8L479.5 529.6L481.2 521.4Z" fill="#ffcdb4"/>
<path d="M484.0 539.4L487.3 539.4L487.3 565.0L487.3 565.0L487.3 625.0L487.3 625.0L487.3 645.5L478.3 645.5L478.7 625.0L478.5 625.0L479.1 565.0L481.2 565.0L482.4 554.1L483.6 541.8Z" fill="#ffa582"/>
<path d="M487.3 560.1L487.3 625.0L487.3 625.0L487.3 645.5L479.5 645.5L480.3 633.2L480.9 625.0L480.8 625.0L481.2 597.7L481.6 565.0L483.2 560.1Z" fill="#ff501e"/>
<path d="M483.6 593.6L487.3 593.6L487.3 625.0L487.3 625.0L487.3 637.3L482.4 637.3L482.8 625.0L482.6 625.0L482.8 605.9Z" fill="#e63200"/>
<path d="M462.7 629.1C463.5 628.4 465.4 629.8 466.0 633.2C466.6 636.6 466.7 645.2 466.4 649.6C466.2 653.9 465.1 659.4 464.4 659.4C463.6 659.4 462.4 653.2 461.9 649.6C461.4 645.9 461.4 640.7 461.5 637.3C461.7 633.9 462.0 629.8 462.7 629.1Z" fill="#d7ebff"/>
<path d="M470.9 625.0C471.5 623.0 473.6 622.3 474.2 625.0C474.8 627.7 474.7 636.9 474.6 641.4C474.5 645.9 474.3 650.6 473.8 652.0C473.3 653.4 472.2 652.0 471.7 649.6C471.3 647.1 471.1 641.4 470.9 637.3C470.8 633.2 470.4 627.0 470.9 625.0Z" fill="#d7ebff"/>
<path d="M459.5 661.8C461.2 659.0 466.8 657.6 468.5 660.2C470.1 662.8 471.1 674.5 469.3 677.4C467.5 680.3 459.5 680.0 457.8 677.4C456.2 674.8 457.7 664.7 459.5 661.8Z" fill="#d7ebff"/>
<path d="M474.2 656.1C474.9 654.5 478.4 654.2 479.1 656.1C479.9 658.0 479.4 665.9 478.7 667.6C478.0 669.2 475.8 667.8 475.0 665.9C474.3 664.0 473.5 657.7 474.2 656.1Z" fill="#d7ebff"/>
<path d="M468.5 637.3C469.2 636.6 471.6 642.1 472.6 645.5C473.5 648.9 474.2 654.3 474.2 657.7C474.2 661.2 473.4 665.2 472.6 665.9C471.7 666.6 470.0 664.6 469.3 661.8C468.5 659.1 468.2 653.6 468.1 649.6C467.9 645.5 467.7 638.0 468.5 637.3Z" fill="#ffcdb4"/>
<path d="M459.1 641.4L460.5 643.8L458.6 656.1L457.4 665.9L456.0 667.6L455.0 665.1L456.6 657.7L457.8 649.6Z" fill="#ff501e"/>
<path d="M462.3 652.0C462.7 652.3 463.3 654.6 463.4 656.1C463.5 657.6 463.1 660.7 462.7 661.0C462.4 661.3 461.7 658.8 461.5 657.7C461.3 656.7 461.2 655.4 461.4 654.5C461.5 653.5 462.0 651.7 462.3 652.0Z" fill="#e63200"/>
<path d="M465.2 641.4C465.6 640.7 466.8 646.1 467.2 649.6C467.7 653.0 467.9 658.7 467.8 661.8C467.7 665.0 467.2 667.7 466.8 668.4C466.5 669.1 465.9 668.4 465.6 665.9C465.3 663.5 464.9 657.7 464.8 653.6C464.7 649.6 464.8 642.1 465.2 641.4Z" fill="#82a5ff"/>
<path d="M466.8 659.4C467.1 659.2 467.7 661.6 467.8 662.7C467.9 663.7 467.5 665.8 467.2 665.9C467.0 666.1 466.2 664.6 466.2 663.5C466.1 662.4 466.6 659.5 466.8 659.4Z" fill="#1e50ff"/>
<path d="M469.7 652.0L471.7 657.7L473.0 665.9L474.6 672.5L477.1 669.2L478.7 670.8L476.7 676.6L471.7 676.2L469.7 670.8L468.9 661.8Z" fill="#ff501e"/>
<path d="M473.4 668.8C473.8 668.8 474.8 670.2 474.9 670.8C474.9 671.5 474.0 672.9 473.5 672.9C473.1 672.9 472.2 671.5 472.2 670.8C472.1 670.2 472.9 668.8 473.4 668.8Z" fill="#4678ff"/>
<path d="M477.9 663.5C478.2 662.7 478.9 664.2 478.9 665.9C479.0 667.7 478.6 673.3 478.3 674.1C478.0 674.9 477.1 672.6 477.1 670.8C477.0 669.1 477.6 664.3 477.9 663.5Z" fill="#4678ff"/>
<path d="M461.1 667.6C461.6 667.6 462.7 669.9 462.7 670.8C462.8 671.8 462.0 673.3 461.5 673.3C461.0 673.3 459.9 671.8 459.9 670.8C459.8 669.9 460.6 667.6 461.1 667.6Z" fill="#ffcdb4"/>
<path d="M484.4 636.5L487.3 636.5L487.3 685.6L431.6 685.6L432.5 676.7L477.1 676.9L478.3 674.1L479.1 665.9L479.9 657.7L479.9 644.6Z" fill="#fff"/>
<path d="M479.1 645.1L480.1 645.5L480.1 656.9L478.3 656.9L478.3 651.2Z" fill="#001eb4"/>
</g>
<rect x="258.15" y="451.85" width="226.75" height="227.0" fill="none" stroke="#000" stroke-width="1.5"/>
<path d="M258.15 445.05V451.85M258.15 678.85V685.65" stroke="#000" stroke-width="1.3"/>
<path d="M270.75 448.25V451.85M270.75 678.85V682.45" stroke="#000" stroke-width="0.9"/>
<path d="M283.34 448.25V451.85M283.34 678.85V682.45" stroke="#000" stroke-width="0.9"/>
<path d="M295.94 445.05V451.85M295.94 678.85V685.65" stroke="#000" stroke-width="1.3"/>
<path d="M308.54 448.25V451.85M308.54 678.85V682.45" stroke="#000" stroke-width="0.9"/>
<path d="M321.14 448.25V451.85M321.14 678.85V682.45" stroke="#000" stroke-width="0.9"/>
<path d="M333.73 445.05V451.85M333.73 678.85V685.65" stroke="#000" stroke-width="1.3"/>
<path d="M346.33 448.25V451.85M346.33 678.85V682.45" stroke="#000" stroke-width="0.9"/>
<path d="M358.93 448.25V451.85M358.93 678.85V682.45" stroke="#000" stroke-width="0.9"/>
<path d="M371.52 445.05V451.85M371.52 678.85V685.65" stroke="#000" stroke-width="1.3"/>
<path d="M384.12 448.25V451.85M384.12 678.85V682.45" stroke="#000" stroke-width="0.9"/>
<path d="M396.72 448.25V451.85M396.72 678.85V682.45" stroke="#000" stroke-width="0.9"/>
<path d="M409.32 445.05V451.85M409.32 678.85V685.65" stroke="#000" stroke-width="1.3"/>
<path d="M421.91 448.25V451.85M421.91 678.85V682.45" stroke="#000" stroke-width="0.9"/>
<path d="M434.51 448.25V451.85M434.51 678.85V682.45" stroke="#000" stroke-width="0.9"/>
<path d="M447.11 445.05V451.85M447.11 678.85V685.65" stroke="#000" stroke-width="1.3"/>
<path d="M459.71 448.25V451.85M459.71 678.85V682.45" stroke="#000" stroke-width="0.9"/>
<path d="M472.30 448.25V451.85M472.30 678.85V682.45" stroke="#000" stroke-width="0.9"/>
<path d="M484.90 445.05V451.85M484.90 678.85V685.65" stroke="#000" stroke-width="1.3"/>
<text x="258.15" y="697.15" font-size="8.3" text-anchor="middle">90N</text>
<text x="295.94" y="697.15" font-size="8.3" text-anchor="middle">60N</text>
<text x="333.73" y="697.15" font-size="8.3" text-anchor="middle">30N</text>
<text x="371.52" y="697.15" font-size="8.3" text-anchor="middle">0</text>
<text x="409.32" y="697.15" font-size="8.3" text-anchor="middle">30S</text>
<text x="447.11" y="697.15" font-size="8.3" text-anchor="middle">60S</text>
<text x="484.90" y="697.15" font-size="8.3" text-anchor="middle">90S</text>
<path d="M251.35 451.85H258.15" stroke="#000" stroke-width="1.3"/>
<text x="246.05" y="454.95" font-size="8.3" text-anchor="end">100</text>
<path d="M251.35 491.82H258.15" stroke="#000" stroke-width="1.3"/>
<text x="246.05" y="494.92" font-size="8.3" text-anchor="end">150</text>
<path d="M251.35 520.18H258.15" stroke="#000" stroke-width="1.3"/>
<text x="246.05" y="523.28" font-size="8.3" text-anchor="end">200</text>
<path d="M251.35 542.18H258.15" stroke="#000" stroke-width="1.3"/>
<text x="246.05" y="545.28" font-size="8.3" text-anchor="end">250</text>
<path d="M251.35 560.16H258.15" stroke="#000" stroke-width="1.3"/>
<text x="246.05" y="563.26" font-size="8.3" text-anchor="end">300</text>
<path d="M251.35 588.52H258.15" stroke="#000" stroke-width="1.3"/>
<text x="246.05" y="591.62" font-size="8.3" text-anchor="end">400</text>
<path d="M251.35 610.52H258.15" stroke="#000" stroke-width="1.3"/>
<text x="246.05" y="613.62" font-size="8.3" text-anchor="end">500</text>
<path d="M251.35 643.69H258.15" stroke="#000" stroke-width="1.3"/>
<text x="246.05" y="646.79" font-size="8.3" text-anchor="end">700</text>
<path d="M251.35 662.83H258.15" stroke="#000" stroke-width="1.3"/>
<text x="246.05" y="665.93" font-size="8.3" text-anchor="end">850</text>
<path d="M251.35 678.85H258.15" stroke="#000" stroke-width="1.3"/>
<text x="246.05" y="681.95" font-size="8.3" text-anchor="end">1000</text>
<path d="M484.90 455.90H491.70" stroke="#000" stroke-width="1.3"/>
<text x="497.20" y="458.60" font-size="8.3">16</text>
<path d="M484.90 517.30H491.70" stroke="#000" stroke-width="1.3"/>
<text x="497.20" y="520.00" font-size="8.3">12</text>
<path d="M484.90 577.25H491.70" stroke="#000" stroke-width="1.3"/>
<text x="497.20" y="579.95" font-size="8.3">8</text>
<path d="M484.90 631.50H491.70" stroke="#000" stroke-width="1.3"/>
<text x="497.20" y="634.20" font-size="8.3">4</text>
<text transform="translate(217.65 565.35) rotate(-90)" font-size="12.97" text-anchor="middle">Pressure (mb)</text>
<text transform="translate(521.40 565.35) rotate(-90)" font-size="12.97" text-anchor="middle">Height (km)</text>
<text x="258.15" y="442.15" font-size="11.95">Vertical pressure velocity</text>
<text x="484.90" y="442.15" font-size="11.95" text-anchor="end">mb/day</text>
<text x="371.52" y="423.15" font-size="12.97" text-anchor="middle">b1850c5_t1a - f1850c5_m3</text>
</g>
<rect x="100.20" y="360.4" width="13.77" height="20.2" fill="#000088" stroke="#000" stroke-width="0.7"/>
<rect x="113.97" y="360.4" width="13.77" height="20.2" fill="#001eb4" stroke="#000" stroke-width="0.7"/>
<rect x="127.74" y="360.4" width="13.77" height="20.2" fill="#0032e6" stroke="#000" stroke-width="0.7"/>
<rect x="141.51" y="360.4" width="13.77" height="20.2" fill="#1e50ff" stroke="#000" stroke-width="0.7"/>
<rect x="155.28" y="360.4" width="13.77" height="20.2" fill="#4678ff" stroke="#000" stroke-width="0.7"/>
<rect x="169.04" y="360.4" width="13.77" height="20.2" fill="#82a5ff" stroke="#000" stroke-width="0.7"/>
<rect x="182.81" y="360.4" width="13.77" height="20.2" fill="#b4cdff" stroke="#000" stroke-width="0.7"/>
<rect x="196.58" y="360.4" width="13.77" height="20.2" fill="#d7ebff" stroke="#000" stroke-width="0.7"/>
<rect x="210.35" y="360.4" width="13.77" height="20.2" fill="#ffebd7" stroke="#000" stroke-width="0.7"/>
<rect x="224.12" y="360.4" width="13.77" height="20.2" fill="#ffcdb4" stroke="#000" stroke-width="0.7"/>
<rect x="237.89" y="360.4" width="13.77" height="20.2" fill="#ffa582" stroke="#000" stroke-width="0.7"/>
<rect x="251.66" y="360.4" width="13.77" height="20.2" fill="#ff7846" stroke="#000" stroke-width="0.7"/>
<rect x="265.43" y="360.4" width="13.77" height="20.2" fill="#ff501e" stroke="#000" stroke-width="0.7"/>
<rect x="279.19" y="360.4" width="13.77" height="20.2" fill="#e63200" stroke="#000" stroke-width="0.7"/>
<rect x="292.96" y="360.4" width="13.77" height="20.2" fill="#b41e00" stroke="#000" stroke-width="0.7"/>
<rect x="306.73" y="360.4" width="13.77" height="20.2" fill="#880000" stroke="#000" stroke-width="0.7"/>
<text x="114.17" y="393.6" font-size="9.0" text-anchor="middle">-20</text>
<text x="141.71" y="393.6" font-size="9.0" text-anchor="middle">-5</text>
<text x="169.24" y="393.6" font-size="9.0" text-anchor="middle">5</text>
<text x="196.78" y="393.6" font-size="9.0" text-anchor="middle">20</text>
<text x="224.32" y="393.6" font-size="9.0" text-anchor="middle">40</text>
<text x="251.86" y="393.6" font-size="9.0" text-anchor="middle">60</text>
<text x="279.39" y="393.6" font-size="9.0" text-anchor="middle">100</text>
<text x="306.93" y="393.6" font-size="9.0" text-anchor="middle">150</text>
<text x="210.20" y="349.8" font-size="10.35" text-anchor="middle" xml:space="preserve">MIN = -51.27  MAX = 739.57</text>
<rect x="422.30" y="360.4" width="13.77" height="20.2" fill="#000088" stroke="#000" stroke-width="0.7"/>
<rect x="436.07" y="360.4" width="13.77" height="20.2" fill="#001eb4" stroke="#000" stroke-width="0.7"/>
<rect x="449.84" y="360.4" width="13.77" height="20.2" fill="#0032e6" stroke="#000" stroke-width="0.7"/>
<rect x="463.61" y="360.4" width="13.77" height="20.2" fill="#1e50ff" stroke="#000" stroke-width="0.7"/>
<rect x="477.38" y="360.4" width="13.77" height="20.2" fill="#4678ff" stroke="#000" stroke-width="0.7"/>
<rect x="491.14" y="360.4" width="13.77" height="20.2" fill="#82a5ff" stroke="#000" stroke-width="0.7"/>
<rect x="504.91" y="360.4" width="13.77" height="20.2" fill="#b4cdff" stroke="#000" stroke-width="0.7"/>
<rect x="518.68" y="360.4" width="13.77" height="20.2" fill="#d7ebff" stroke="#000" stroke-width="0.7"/>
<rect x="532.45" y="360.4" width="13.77" height="20.2" fill="#ffebd7" stroke="#000" stroke-width="0.7"/>
<rect x="546.22" y="360.4" width="13.77" height="20.2" fill="#ffcdb4" stroke="#000" stroke-width="0.7"/>
<rect x="559.99" y="360.4" width="13.77" height="20.2" fill="#ffa582" stroke="#000" stroke-width="0.7"/>
<rect x="573.76" y="360.4" width="13.77" height="20.2" fill="#ff7846" stroke="#000" stroke-width="0.7"/>
<rect x="587.53" y="360.4" width="13.77" height="20.2" fill="#ff501e" stroke="#000" stroke-width="0.7"/>
<rect x="601.29" y="360.4" width="13.77" height="20.2" fill="#e63200" stroke="#000" stroke-width="0.7"/>
<rect x="615.06" y="360.4" width="13.77" height="20.2" fill="#b41e00" stroke="#000" stroke-width="0.7"/>
<rect x="628.83" y="360.4" width="13.77" height="20.2" fill="#880000" stroke="#000" stroke-width="0.7"/>
<text x="436.27" y="393.6" font-size="9.0" text-anchor="middle">-20</text>
<text x="463.81" y="393.6" font-size="9.0" text-anchor="middle">-5</text>
<text x="491.34" y="393.6" font-size="9.0" text-anchor="middle">5</text>
<text x="518.88" y="393.6" font-size="9.0" text-anchor="middle">20</text>
<text x="546.42" y="393.6" font-size="9.0" text-anchor="middle">40</text>
<text x="573.96" y="393.6" font-size="9.0" text-anchor="middle">60</text>
<text x="601.49" y="393.6" font-size="9.0" text-anchor="middle">100</text>
<text x="629.03" y="393.6" font-size="9.0" text-anchor="middle">150</text>
<text x="532.30" y="349.8" font-size="10.35" text-anchor="middle" xml:space="preserve">MIN = -59.73  MAX = 895.66</text>
<rect x="560.4" y="665.19" width="24.3" height="11.41" fill="#000088" stroke="#000" stroke-width="0.7"/>
<rect x="560.4" y="653.79" width="24.3" height="11.41" fill="#001eb4" stroke="#000" stroke-width="0.7"/>
<rect x="560.4" y="642.38" width="24.3" height="11.41" fill="#0032e6" stroke="#000" stroke-width="0.7"/>
<rect x="560.4" y="630.98" width="24.3" height="11.41" fill="#1e50ff" stroke="#000" stroke-width="0.7"/>
<rect x="560.4" y="619.57" width="24.3" height="11.41" fill="#4678ff" stroke="#000" stroke-width="0.7"/>
<rect x="560.4" y="608.16" width="24.3" height="11.41" fill="#82a5ff" stroke="#000" stroke-width="0.7"/>
<rect x="560.4" y="596.76" width="24.3" height="11.41" fill="#b4cdff" stroke="#000" stroke-width="0.7"/>
<rect x="560.4" y="585.35" width="24.3" height="11.41" fill="#d7ebff" stroke="#000" stroke-width="0.7"/>
<rect x="560.4" y="573.94" width="24.3" height="11.41" fill="#ffebd7" stroke="#000" stroke-width="0.7"/>
<rect x="560.4" y="562.54" width="24.3" height="11.41" fill="#ffcdb4" stroke="#000" stroke-width="0.7"/>
<rect x="560.4" y="551.13" width="24.3" height="11.41" fill="#ffa582" stroke="#000" stroke-width="0.7"/>
<rect x="560.4" y="539.73" width="24.3" height="11.41" fill="#ff7846" stroke="#000" stroke-width="0.7"/>
<rect x="560.4" y="528.32" width="24.3" height="11.41" fill="#ff501e" stroke="#000" stroke-width="0.7"/>
<rect x="560.4" y="516.91" width="24.3" height="11.41" fill="#e63200" stroke="#000" stroke-width="0.7"/>
<rect x="560.4" y="505.51" width="24.3" height="11.41" fill="#b41e00" stroke="#000" stroke-width="0.7"/>
<rect x="560.4" y="494.10" width="24.3" height="11.41" fill="#880000" stroke="#000" stroke-width="0.7"/>
<text x="587.6999999999999" y="668.69" font-size="9.0">-20</text>
<text x="587.6999999999999" y="657.29" font-size="9.0">-15</text>
<text x="587.6999999999999" y="645.88" font-size="9.0">-10</text>
<text x="587.6999999999999" y="634.48" font-size="9.0">-8</text>
<text x="587.6999999999999" y="623.07" font-size="9.0">-6</text>
<text x="587.6999999999999" y="611.66" font-size="9.0">-4</text>
<text x="587.6999999999999" y="600.26" font-size="9.0">-2</text>
<text x="589.9" y="588.85" font-size="9.0">0</text>
<text x="589.9" y="577.44" font-size="9.0">2</text>
<text x="589.9" y="566.04" font-size="9.0">4</text>
<text x="589.9" y="554.63" font-size="9.0">6</text>
<text x="589.9" y="543.23" font-size="9.0">8</text>
<text x="589.9" y="531.82" font-size="9.0">10</text>
<text x="589.9" y="520.41" font-size="9.0">15</text>
<text x="589.9" y="509.01" font-size="9.0">20</text>
<text x="513.5" y="474.6" font-size="10.3" xml:space="preserve">MIN = -156.09  MAX =  22.55</text>
</svg>
</body></html>
